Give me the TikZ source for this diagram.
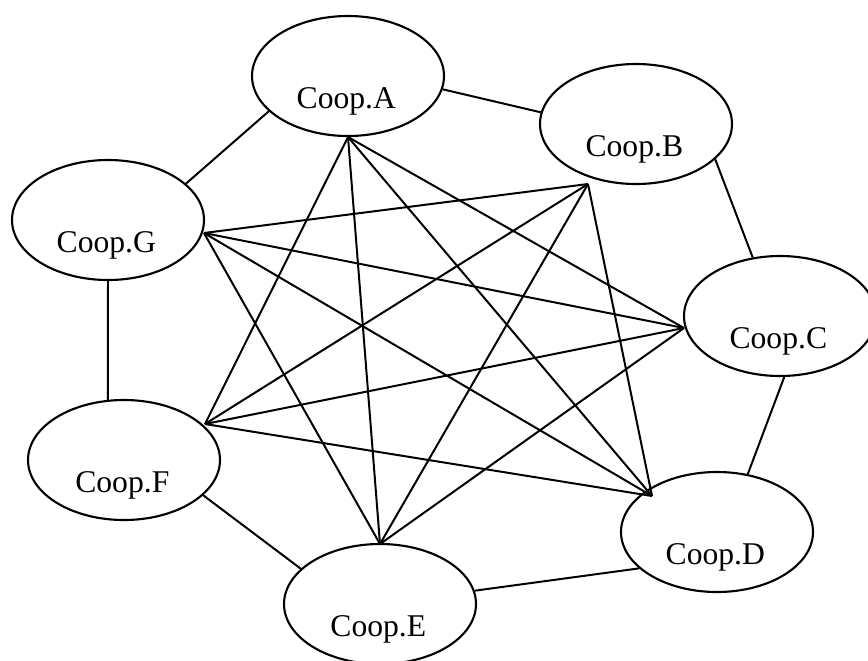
\documentclass[tikz,border=0pt]{standalone}
\usepackage{fontspec}
\setmainfont{Liberation Serif}
\usepackage{tikz}
\usetikzlibrary{shapes.geometric}

% label sits below the middle of the ellipse
\newcommand{\cooplbl}[1]{\raisebox{-0.96cm}[0pt][0pt]{\hspace*{-0.1cm}Coop.#1}}

\begin{document}
\begin{tikzpicture}[
  x=0.03cm, y=-0.03cm,
  coop/.style={draw, ellipse, line width=1.8pt, minimum width=5.76cm,
               minimum height=3.6cm, inner sep=0pt,
               font=\fontsize{27}{30}\selectfont},
  link/.style={line width=1.7pt},
]
  \useasboundingbox (0,0) rectangle (868,660);

  % Cooperatives
  \node[coop] (A) at (348,76)  {\cooplbl{A}};
  \node[coop] (B) at (636,124) {\cooplbl{B}};
  \node[coop] (C) at (780,316) {\cooplbl{C}};
  \node[coop] (D) at (717,532) {\cooplbl{D}};
  \node[coop] (E) at (380,604) {\cooplbl{E}};
  \node[coop] (F) at (124,460) {\cooplbl{F}};
  \node[coop] (G) at (108,220) {\cooplbl{G}};

  % Meeting points of the inner lines
  \coordinate (h0) at (348,137);
  \coordinate (h1) at (588,184);
  \coordinate (h2) at (684,328);
  \coordinate (h3) at (652,496);
  \coordinate (h4) at (380,544);
  \coordinate (h5) at (205,424);
  \coordinate (h6) at (204,233);

  % Ring
  \draw[link] (A.-8)   -- (B.173);
  \draw[link] (B.-24)  -- (C.115);
  \draw[link] (C.-86)  -- (D.62);
  \draw[link] (D.205)  -- (E.8);
  \draw[link] (E.156)  -- (F.-24);
  \draw[link] (F.105)  -- (G.-90);
  \draw[link] (G.25)   -- (A.204);

  % Diagonals
  \foreach \i in {0,...,6} {
    \pgfmathtruncatemacro{\j}{mod(\i+2,7)}
    \pgfmathtruncatemacro{\k}{mod(\i+3,7)}
    \draw[link] (h\i) -- (h\j);
    \draw[link] (h\i) -- (h\k);
  }
\end{tikzpicture}
\end{document}
